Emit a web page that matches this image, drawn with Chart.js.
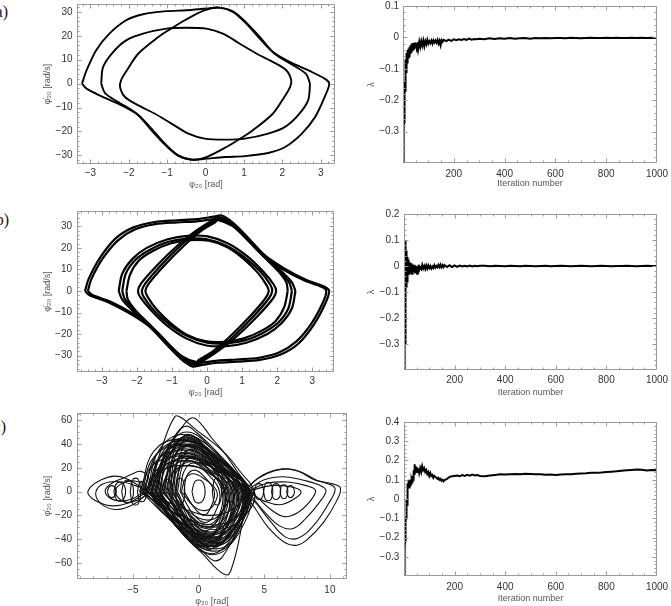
<!DOCTYPE html>
<html><head><meta charset="utf-8">
<script src="https://cdn.jsdelivr.net/npm/chart.js@4.4.0/dist/chart.umd.min.js"></script>
<style>
html,body{margin:0;padding:0;background:#fff;}
#wrap{position:relative;width:671px;height:606px;overflow:hidden;background:#fff;}
canvas{position:absolute;}
.lbl{position:absolute;font-family:"Liberation Serif","DejaVu Serif",serif;font-size:16px;color:#111;width:30px;text-align:right;line-height:16px;}
</style></head><body>
<div id="wrap">
<canvas id="cAL" width="330" height="195" style="left:20px;top:0px;width:330px;height:195px"></canvas>
<canvas id="cAR" width="321" height="195" style="left:350px;top:0px;width:321px;height:195px"></canvas>
<canvas id="cBL" width="330" height="200" style="left:20px;top:200px;width:330px;height:200px"></canvas>
<canvas id="cBR" width="321" height="200" style="left:350px;top:200px;width:321px;height:200px"></canvas>
<canvas id="cCL" width="335" height="206" style="left:20px;top:400px;width:335px;height:206px"></canvas>
<canvas id="cCR" width="321" height="206" style="left:350px;top:400px;width:321px;height:206px"></canvas>
<div class="lbl" style="left:-22px;top:4px">(a)</div>
<div class="lbl" style="left:-21px;top:212px">(b)</div>
<div class="lbl" style="left:-24px;top:419px">(c)</div>
</div>
<script>
// ---------- tick labels ----------
const phaseXTicksAB = [-3,-2,-1,0,1,2,3];
const phaseYTicksAB = [-30,-20,-10,0,10,20,30];
const phaseXTicksC = [-5,0,5,10];
const phaseYTicksC = [-60,-40,-20,0,20,40,60];
const iterTicks = [200,400,600,800,1000];
const lamTicksA = [-0.3,-0.2,-0.1,0,0.1];
const lamTicksB = [-0.3,-0.2,-0.1,0,0.1,0.2];
const lamTicksC = [-0.3,-0.2,-0.1,0,0.1,0.2,0.3,0.4];

// ---------- Lyapunov exponent series ----------
const iterations = [1,2,3,4,5,6,7,8,9,10,11,12,13,14,15,16,17,18,19,20,
22,24,26,28,30,32,34,36,38,40,42,44,46,48,50,52,54,56,58,60,
64,68,72,76,80,84,88,92,96,100,104,108,112,116,120,124,128,132,136,140,144,148,152,156,160,
170,180,190,200,210,220,230,240,250,260,270,280,290,300,
320,340,360,380,400,420,440,460,480,500,520,540,560,580,600,620,640,660,680,700,720,740,760,780,800,820,840,860,880,900,920,940,960,980,1000];

const lambdaA = [-0.40,-0.34,-0.29,-0.27,-0.22,-0.21,-0.14,-0.17,-0.12,-0.13,-0.07,-0.11,-0.06,-0.09,-0.05,-0.08,-0.045,-0.07,-0.04,-0.065,
-0.035,-0.06,-0.03,-0.05,-0.025,-0.045,-0.02,-0.04,-0.018,-0.038,-0.02,-0.034,-0.016,-0.03,-0.018,-0.028,-0.02,-0.045,-0.015,-0.035,
-0.014,-0.03,-0.012,-0.026,-0.01,-0.028,-0.012,-0.022,-0.008,-0.02,-0.012,-0.018,-0.01,-0.02,-0.009,-0.016,-0.01,-0.017,-0.008,-0.02,-0.011,-0.025,-0.009,-0.014,-0.008,
-0.012,-0.007,-0.011,-0.006,-0.009,-0.006,-0.008,-0.005,-0.008,-0.004,-0.007,-0.005,-0.006,-0.004,
-0.006,-0.003,-0.005,-0.003,-0.004,-0.002,-0.004,-0.003,-0.002,-0.004,-0.002,-0.003,-0.002,-0.003,-0.002,-0.002,-0.003,-0.001,-0.002,-0.003,-0.002,-0.001,-0.002,-0.002,-0.001,-0.002,-0.001,-0.002,-0.002,-0.001,-0.002,-0.001,-0.002,-0.001,-0.002];

const lambdaB = [-0.40,-0.15,0.10,-0.30,0.10,-0.12,0.08,-0.08,0.06,-0.06,0.04,-0.06,0.035,-0.04,0.03,-0.03,0.025,-0.025,0.02,-0.03,
0.015,-0.025,0.01,-0.02,0.01,-0.03,0.005,-0.02,0.0,-0.015,0.005,-0.025,-0.005,-0.02,0.0,-0.03,-0.005,-0.02,0.005,-0.015,
-0.005,-0.012,0.004,-0.01,0.0,-0.012,0.002,-0.01,0.002,-0.008,0.0,-0.01,-0.002,-0.008,0.003,-0.006,0.0,-0.005,0.004,-0.004,0.005,-0.005,0.003,-0.004,0.004,
-0.004,0.003,-0.004,0.002,-0.003,0.002,-0.002,0.001,-0.002,0.002,-0.002,0.001,-0.001,0.001,
0.001,-0.001,0.001,0,-0.001,0.001,0,-0.001,0.001,0,-0.001,0,0.001,-0.001,0,0.001,0,-0.001,0,0.001,0,-0.001,0,0.001,0,-0.001,0,0,0.001,0,-0.001,0,0.001,0,0];

const lambdaC = [-0.40,-0.33,-0.27,-0.22,-0.18,-0.20,-0.12,-0.10,-0.06,-0.08,0.0,-0.03,0.04,0.02,0.08,0.06,0.10,0.07,0.09,0.06,
0.10,0.07,0.10,0.08,0.10,0.09,0.12,0.10,0.15,0.13,0.18,0.15,0.17,0.14,0.165,0.145,0.16,0.14,0.15,0.135,
0.16,0.14,0.17,0.15,0.16,0.14,0.15,0.13,0.14,0.12,0.135,0.12,0.125,0.11,0.12,0.115,0.11,0.105,0.11,0.10,0.105,0.095,0.10,0.092,0.098,
0.105,0.115,0.118,0.12,0.122,0.118,0.124,0.12,0.126,0.121,0.127,0.122,0.125,0.12,
0.118,0.122,0.125,0.128,0.127,0.129,0.13,0.128,0.131,0.13,0.129,0.128,0.126,0.127,0.125,0.127,0.128,0.129,0.131,0.133,0.134,0.136,0.137,0.138,0.14,0.142,0.144,0.147,0.149,0.151,0.153,0.152,0.148,0.15,0.149];

// ---------- phase portrait (a): [phi, phidot] ----------
const aOuter = [[-3.22,0],[-3.1,5.6],[-2.85,14],[-2.5,21],[-2.07,26.5],[-1.63,29],[-1.02,30.3],[-0.5,30.7],[0.02,31.4],[0.36,31.8],[0.71,30],[1.06,25.1],[1.41,18.8],[1.75,13.2],[2.19,9.1],[2.71,5.3],[3.1,2.1],[3.22,0],[3.1,-5.6],[2.85,-14],[2.5,-21],[2.07,-26.5],[1.63,-29],[1.02,-30.3],[0.5,-30.7],[-0.02,-31.4],[-0.36,-31.8],[-0.71,-30],[-1.06,-25.1],[-1.41,-18.8],[-1.75,-13.2],[-2.19,-9.1],[-2.71,-5.3],[-3.1,-2.1],[-3.22,0]];
const aLoopUpper = [[-2.72,0],[-2.67,7],[-2.41,13.2],[-2.07,18.1],[-1.63,20.9],[-1.02,23],[-0.5,23.4],[0.02,23],[0.45,20.9],[0.89,16.7],[1.32,12.6],[1.75,9.1],[2.1,5.6],[2.23,1.4],[2.2,-1.5],[2.05,-5.6],[1.75,-12.6],[1.23,-19.5],[0.97,-22.3],[0.54,-26.5],[0.02,-30.7],[-0.33,-31.8],[-0.71,-30.2],[-1.06,-25.5],[-1.41,-19.5],[-1.8,-12.5],[-2.3,-7.5],[-2.62,-4],[-2.72,0]];
const aLoopLower = [[2.72,0],[2.67,-7],[2.41,-13.2],[2.07,-18.1],[1.63,-20.9],[1.02,-23],[0.5,-23.4],[-0.02,-23],[-0.45,-20.9],[-0.89,-16.7],[-1.32,-12.6],[-1.75,-9.1],[-2.1,-5.6],[-2.23,-1.4],[-2.2,1.5],[-2.05,5.6],[-1.75,12.6],[-1.23,19.5],[-0.97,22.3],[-0.54,26.5],[-0.02,30.7],[0.33,31.8],[0.71,30.2],[1.06,25.5],[1.41,19.5],[1.8,12.5],[2.3,7.5],[2.62,4],[2.72,0]];

// ---------- phase portrait (b) ----------
const bOuter1 = [[-3.48,0],[-3.38,5.5],[-3.05,15.5],[-2.6,24.5],[-2.1,29.5],[-1.5,32],[-0.85,32.8],[-0.3,33.3],[0.2,34.5],[0.42,35],[0.75,31.5],[1.15,25],[1.65,16.5],[2.2,10.5],[2.85,5],[3.35,2],[3.48,0],[3.38,-5.5],[3.05,-15.5],[2.6,-24.5],[2.1,-29.5],[1.5,-32],[0.85,-32.8],[0.3,-33.3],[-0.2,-34.5],[-0.42,-35],[-0.75,-31.5],[-1.15,-25],[-1.65,-16.5],[-2.2,-10.5],[-2.85,-5],[-3.35,-2],[-3.48,0]];
const bOuter2 = [[-3.4,0],[-3.3,5.5],[-2.98,15],[-2.54,23.5],[-2.05,28.6],[-1.48,31],[-0.85,31.8],[-0.3,32.3],[0.2,33.4],[0.4,33.8],[0.72,30.5],[1.1,24.5],[1.6,16.3],[2.15,10.2],[2.78,4.8],[3.28,1.8],[3.4,0],[3.3,-5.5],[2.98,-15],[2.54,-23.5],[2.05,-28.6],[1.48,-31],[0.85,-31.8],[0.3,-32.3],[-0.2,-33.4],[-0.4,-33.8],[-0.72,-30.5],[-1.1,-24.5],[-1.6,-16.3],[-2.15,-10.2],[-2.78,-4.8],[-3.28,-1.8],[-3.4,0]];
const bUpper1 = [[-2.52,0],[-2.42,8],[-2.12,15],[-1.72,20],[-1.12,24],[-0.55,25.6],[0.02,25.3],[0.6,22],[1.15,16],[1.6,9],[1.9,3],[1.97,0],[1.88,-3.5],[1.45,-11.5],[0.85,-21],[0.35,-27.5],[-0.12,-32.5],[-0.33,-34.3],[-0.68,-31.5],[-1.1,-25],[-1.6,-16.5],[-2.1,-9.5],[-2.42,-4],[-2.52,0]];
const bUpper2 = [[-2.42,0],[-2.32,8],[-2.04,14.5],[-1.64,19],[-1.1,22.8],[-0.55,24.3],[0.0,24],[0.55,21],[1.08,15.5],[1.52,9],[1.8,3],[1.86,0],[1.76,-3.5],[1.34,-11.5],[0.76,-21],[0.26,-27.8],[-0.18,-32.2],[-0.32,-33.5],[-0.7,-30.8],[-1.13,-24.5],[-1.62,-16],[-2.06,-9.2],[-2.34,-4],[-2.42,0]];
const bUpper3 = [[-2.3,0],[-2.2,7.5],[-1.95,14],[-1.56,18.4],[-1.05,22],[-0.5,23.6],[0.05,23.3],[0.58,20.3],[1.05,14.8],[1.45,8.4],[1.7,2.6],[1.76,0],[1.66,-3.5],[1.24,-11.5],[0.66,-21],[0.16,-28],[-0.24,-32],[-0.3,-33],[-0.72,-30.2],[-1.16,-24],[-1.64,-15.6],[-2.04,-9],[-2.26,-4],[-2.3,0]];
const bLower1 = [[2.52,0],[2.42,-8],[2.12,-15],[1.72,-20],[1.12,-24],[0.55,-25.6],[-0.02,-25.3],[-0.6,-22],[-1.15,-16],[-1.6,-9],[-1.9,-3],[-1.97,0],[-1.88,3.5],[-1.45,11.5],[-0.85,21],[-0.35,27.5],[0.12,32.5],[0.33,34.3],[0.68,31.5],[1.1,25],[1.6,16.5],[2.1,9.5],[2.42,4],[2.52,0]];
const bLower2 = [[2.42,0],[2.32,-8],[2.04,-14.5],[1.64,-19],[1.1,-22.8],[0.55,-24.3],[0.0,-24],[-0.55,-21],[-1.08,-15.5],[-1.52,-9],[-1.8,-3],[-1.86,0],[-1.76,3.5],[-1.34,11.5],[-0.76,21],[-0.26,27.8],[0.18,32.2],[0.32,33.5],[0.7,30.8],[1.13,24.5],[1.62,16],[2.06,9.2],[2.34,4],[2.42,0]];
const bLower3 = [[2.3,0],[2.2,-7.5],[1.95,-14],[1.56,-18.4],[1.05,-22],[0.5,-23.6],[-0.05,-23.3],[-0.58,-20.3],[-1.05,-14.8],[-1.45,-8.4],[-1.7,-2.6],[-1.76,0],[-1.66,3.5],[-1.24,11.5],[-0.66,21],[-0.16,28],[0.24,32],[0.3,33],[0.72,30.2],[1.16,24],[1.64,15.6],[2.04,9],[2.26,4],[2.3,0]];

// ---------- phase portrait (c), chaotic ----------
const cCenterLoops = [
[[-4.2,0],[-3.3,25],[-1.3,35],[1.1,25],[3.8,0],[3.0,-27],[1.1,-38],[-1.3,-27],[-4.2,0]],
[[-3.6,0],[-2.8,32],[-1.1,45],[1.0,32],[3.4,0],[2.7,-32],[1.0,-45],[-1.1,-32],[-3.6,0]],
[[-3,0],[-2.3,30],[-0.9,42],[0.9,30],[3,0],[2.3,-35],[0.9,-48],[-0.9,-35],[-3,0]],
[[-2.6,0],[-2.0,27],[-0.8,38],[0.8,27],[2.8,0],[2.2,-29],[0.8,-40],[-0.8,-29],[-2.6,0]],
[[-2.2,0],[-1.7,23],[-0.7,32],[0.7,23],[2.4,0],[1.9,-26],[0.7,-36],[-0.7,-26],[-2.2,0]],
[[-1.8,0],[-1.4,20],[-0.5,28],[0.6,20],[2.0,0],[1.6,-22],[0.6,-30],[-0.5,-22],[-1.8,0]],
[[-1.4,0],[-1.1,17],[-0.4,24],[0.5,17],[1.6,0],[1.2,-19],[0.5,-26],[-0.4,-19],[-1.4,0]],
[[-1.1,0],[-0.9,13],[-0.3,18],[0.4,13],[1.2,0],[0.9,-14],[0.4,-20],[-0.3,-14],[-1.1,0]],
[[-3.9,0],[-3.0,35],[-1.2,48],[1.1,35],[3.6,0],[2.8,-30],[1.1,-42],[-1.2,-30],[-3.9,0]],
[[-3.3,0],[-2.6,26],[-1.0,36],[0.9,26],[3.1,0],[2.4,-29],[0.9,-40],[-1.0,-29],[-3.3,0]],
[[-2.9,0],[-2.3,33],[-0.9,46],[1.0,33],[3.3,0],[2.6,-37],[1.0,-52],[-0.9,-37],[-2.9,0]],
[[-2.4,0],[-1.9,29],[-0.7,40],[0.8,29],[2.6,0],[2.0,-32],[0.8,-44],[-0.7,-32],[-2.4,0]],
[[-2.0,0],[-1.6,25],[-0.6,35],[0.7,25],[2.2,0],[1.7,-27],[0.7,-38],[-0.6,-27],[-2.0,0]],
[[-1.6,0],[-1.2,22],[-0.5,30],[0.5,22],[1.8,0],[1.4,-24],[0.5,-33],[-0.5,-24],[-1.6,0]],
[[-4.5,0],[-3.5,22],[-1.4,30],[1.2,22],[4.0,0],[3.1,-20],[1.2,-28],[-1.4,-20],[-4.5,0]],
[[-3.7,0],[-2.9,29],[-1.1,40],[1.2,29],[3.9,0],[3.0,-36],[1.2,-50],[-1.1,-36],[-3.7,0]],
[[-2.7,0],[-2.1,22],[-0.8,30],[0.9,22],[2.9,0],[2.3,-24],[0.9,-34],[-0.8,-24],[-2.7,0]],
[[-1.3,0],[-1.0,11],[-0.4,15],[0.4,11],[1.4,0],[1.1,-12],[0.4,-16],[-0.4,-12],[-1.3,0]],
[[-3.4,0],[-2.7,20],[-1.0,28],[1.1,20],[3.6,0],[2.8,-22],[1.1,-30],[-1.0,-22],[-3.4,0]],
[[-4,0],[-3.1,16],[-1.2,22],[1.0,16],[3.5,0],[2.7,-14],[1.0,-20],[-1.2,-14],[-4,0]],
[[-3.1,0],[-2.4,36],[-0.9,50],[1.0,36],[3.3,0],[2.6,-33],[1.0,-46],[-0.9,-33],[-3.1,0]],
[[-2.2,0],[-1.7,32],[-0.7,44],[0.6,32],[2.0,0],[1.6,-29],[0.6,-40],[-0.7,-29],[-2.2,0]],
[[-3.5,0],[-2.7,27],[-1.05,38],[1.0,27],[3.2,0],[2.5,-25],[1.0,-35],[-1.05,-25],[-3.5,0]],
[[-2.8,0],[-2.2,19],[-0.85,26],[0.8,19],[2.6,0],[2.0,-22],[0.8,-30],[-0.85,-22],[-2.8,0]],
[[-4.3,0],[-3.4,29],[-1.3,40],[1.1,29],[3.7,0],[2.9,-26],[1.1,-36],[-1.3,-26],[-4.3,0]],
[[-1.9,0],[-1.5,29],[-0.6,40],[0.7,29],[2.3,0],[1.8,-33],[0.7,-46],[-0.6,-33],[-1.9,0]],
[[-3.2,0],[-2.5,24],[-1.0,33],[1.0,24],[3.4,0],[2.7,-32],[1.0,-44],[-1.0,-32],[-3.2,0]],
[[-2.5,0],[-2.0,16],[-0.75,22],[0.7,16],[2.3,0],[1.8,-17],[0.7,-24],[-0.75,-17],[-2.5,0]],
[[-4,0],[-3.1,19],[-1.2,26],[1.3,19],[4.2,0],[3.3,-23],[1.3,-32],[-1.2,-23],[-4,0]],
[[-3.8,0],[-3.0,28],[-1.1,39],[1.0,28],[3.5,0],[2.7,-30],[1.0,-41],[-1.1,-30],[-3.8,0]],
[[-2.3,0],[-1.8,36],[-0.7,48],[0.7,34],[2.5,0],[1.9,-35],[0.7,-49],[-0.7,-35],[-2.3,0]],
[[-4.1,0],[-3.2,31],[-1.25,43],[1.1,31],[3.7,0],[2.9,-33],[1.1,-46],[-1.25,-33],[-4.1,0]],
[[-3.0,0],[-2.4,21],[-0.9,29],[0.9,21],[3.0,0],[2.3,-27],[0.9,-37],[-0.9,-27],[-3.0,0]],
[[-1.7,0],[-1.3,26],[-0.5,36],[0.6,26],[1.9,0],[1.5,-28],[0.6,-39],[-0.5,-28],[-1.7,0]],
[[-3.6,0],[-2.8,23],[-1.1,32],[1.0,23],[3.3,0],[2.6,-28],[1.0,-39],[-1.1,-28],[-3.6,0]],
[[-2.6,0],[-2.0,34],[-0.8,47],[0.8,34],[2.7,0],[2.1,-30],[0.8,-42],[-0.8,-30],[-2.6,0]],
[[-4.4,0],[-3.4,34],[-1.3,44],[1.2,31],[3.8,0],[3.0,-31],[1.2,-43],[-1.3,-31],[-4.4,0]],
[[-2.1,0],[-1.6,18],[-0.6,25],[0.6,18],[2.1,0],[1.6,-20],[0.6,-28],[-0.6,-20],[-2.1,0]],
[[-3.3,0],[-2.6,31],[-1.0,43],[1.1,33],[3.6,0],[2.8,-38],[1.1,-53],[-1.0,-38],[-3.3,0]]
];
const cSpikeLoops = [
[[-3.8,0],[-3.4,15],[-2.7,40],[-1.8,63],[-1.3,62],[-0.2,52],[1,42],[2.2,30],[3.3,15],[4.2,2],[4,-6],[3.3,-25],[2.5,-42],[1.5,-48],[0.2,-45],[-1.2,-35],[-2.5,-18],[-3.4,-6],[-3.8,0]],
[[-3.5,0],[-3.1,15],[-2.2,38],[-1.2,55],[-0.5,62],[0.1,58],[1,45],[2,32],[3,16],[3.8,3],[3.6,-8],[3,-25],[2,-40],[1,-46],[-0.3,-44],[-1.5,-32],[-2.6,-16],[-3.3,-5],[-3.5,0]],
[[-3.2,0],[-2.9,15],[-2,35],[-1,45],[0,42],[1,32],[2,20],[3,8],[3.8,0],[3.5,-15],[3,-45],[2.5,-65],[2.2,-70],[1.5,-66],[0.3,-52],[-1,-38],[-2.3,-20],[-3,-6],[-3.2,0]],
[[-3.6,0],[-3.2,14],[-2.5,32],[-1.6,50],[-0.9,55],[-0.2,50],[0.8,40],[2,26],[3.1,12],[3.9,1],[3.6,-10],[2.8,-35],[1.8,-55],[1.2,-58],[0.3,-50],[-1,-36],[-2.4,-18],[-3.3,-6],[-3.6,0]]
];
const cLeftWing = [
[[-4.2,-2],[-5.2,-9],[-6.5,-12],[-7.6,-9],[-8.4,-2],[-8.2,4],[-7.4,10],[-6.4,13],[-5.5,11],[-4.7,6],[-4.2,2],[-4.2,-2]],
[[-4.0,-3],[-5,-11],[-6.2,-15],[-7.2,-12],[-7.8,-4],[-7.6,4],[-6.8,8],[-5.8,8],[-4.8,5],[-4.0,1],[-4.0,-3]],
[[-4.3,-1],[-5,-6],[-6,-8],[-6.8,-5],[-7.1,1],[-6.6,7],[-5.8,11],[-5,15],[-4.4,17],[-3.8,12],[-3.9,3],[-4.3,-1]],
[[-3.9,-2],[-4.6,-7],[-5.5,-9],[-6.2,-4],[-6.3,2],[-5.8,7],[-5,9],[-4.2,6],[-3.9,-2]]
];
const cRightWing = [
[[3.6,2],[4.5,11],[5.8,17.5],[7,19],[8,15.5],[9,9.5],[10.2,6.5],[10.8,3],[10.5,-8],[9.5,-26],[8.3,-40],[7.5,-45],[6.6,-43],[5.3,-30],[4.3,-14],[3.6,-3],[3.6,2]],
[[3.7,3],[4.9,14],[6.3,19],[7.6,17],[8.8,10],[10,6],[10.4,2],[9.9,-10],[8.8,-28],[7.6,-39],[6.6,-38],[5.4,-24],[4.4,-10],[3.7,-2],[3.7,3]],
[[3.8,2],[5,10],[6.5,12.5],[8,9.5],[9.2,5.5],[9.7,1],[9.2,-9],[8.2,-22],[7.2,-31],[6.2,-29],[5.1,-18],[4.2,-6],[3.8,2]],
[[3.9,1],[5.2,7],[6.8,8],[8.2,5],[8.9,1],[8.5,-8],[7.5,-18],[6.5,-21],[5.5,-15],[4.5,-5],[3.9,1]],
[[4,1],[5.5,5],[7,4],[7.8,0],[7.3,-6],[6.2,-11],[5,-8],[4.2,-3],[4,1]]
];
const cSmallOrbits = [
[[-6.45,0],[-6.22,7],[-5.78,7],[-5.55,0],[-5.78,-7],[-6.22,-7],[-6.45,0]],
[[-5.85,0],[-5.62,8.7],[-5.18,8.7],[-4.95,0],[-5.18,-8.7],[-5.62,-8.7],[-5.85,0]],
[[-5.2,0],[-5.0,10.4],[-4.6,10.4],[-4.4,0],[-4.6,-10.4],[-5.0,-10.4],[-5.2,0]],
[[-4.65,0],[-4.47,7.8],[-4.13,7.8],[-3.95,0],[-4.13,-7.8],[-4.47,-7.8],[-4.65,0]],
[[-6.95,0],[-6.77,4.3],[-6.43,4.3],[-6.25,0],[-6.43,-4.3],[-6.77,-4.3],[-6.95,0]],
[[4.25,0],[4.42,6],[4.78,6],[4.95,0],[4.78,-6],[4.42,-6],[4.25,0]],
[[4.95,0],[5.12,7],[5.48,7],[5.65,0],[5.48,-7],[5.12,-7],[4.95,0]],
[[5.55,0],[5.72,6],[6.08,6],[6.25,0],[6.08,-6],[5.72,-6],[5.55,0]],
[[6.2,0],[6.35,5.2],[6.65,5.2],[6.8,0],[6.65,-5.2],[6.35,-5.2],[6.2,0]],
[[6.7,0],[6.85,4.3],[7.15,4.3],[7.3,0],[7.15,-4.3],[6.85,-4.3],[6.7,0]],
[[-0.5,0],[-0.25,8.7],[0.25,8.7],[0.5,0],[0.25,-8.7],[-0.25,-8.7],[-0.5,0]],
[[-1.75,0],[-1.57,10.4],[-1.23,10.4],[-1.05,0],[-1.23,-10.4],[-1.57,-10.4],[-1.75,0]],
[[-2.8,0],[-2.6,9.5],[-2.2,9.5],[-2.0,0],[-2.2,-9.5],[-2.6,-9.5],[-2.8,0]],
[[-3.55,0],[-3.37,7.8],[-3.03,7.8],[-2.85,0],[-3.03,-7.8],[-3.37,-7.8],[-3.55,0]],
[[1.05,0],[1.23,10.4],[1.57,10.4],[1.75,0],[1.57,-10.4],[1.23,-10.4],[1.05,0]],
[[2.0,0],[2.2,7.8],[2.6,7.8],[2.8,0],[2.6,-7.8],[2.2,-7.8],[2.0,0]],
[[2.9,0],[3.05,6],[3.35,6],[3.5,0],[3.35,-6],[3.05,-6],[2.9,0]]
];

// ---------- rendering ----------
Chart.defaults.font.family = '"Liberation Sans", Arial, Helvetica, sans-serif';
const fmt = v => (v < 0 ? '\u2212' + String(-v) : String(v));

const framePlugin = {
  id: 'frame',
  afterDatasetsDraw(chart, args, o) {
    const {ctx, chartArea: a, scales: {x, y}} = chart;
    ctx.save();
    ctx.strokeStyle = '#9a9a9a';
    ctx.lineWidth = 1;
    const L = Math.round(a.left) + 0.5, R = Math.round(a.right) - 0.5;
    const T = Math.round(a.top) + 0.5, B = Math.round(a.bottom) - 0.5;
    ctx.beginPath();
    ctx.rect(L, T, R - L, B - T);
    const xt = (v, len) => { const p = Math.round(x.getPixelForValue(v)) + 0.5; if (p < L || p > R) return; ctx.moveTo(p, B); ctx.lineTo(p, B - len); ctx.moveTo(p, T); ctx.lineTo(p, T + len); };
    const yt = (v, len) => { const p = Math.round(y.getPixelForValue(v)) + 0.5; if (p < T || p > B) return; ctx.moveTo(L, p); ctx.lineTo(L + len, p); ctx.moveTo(R, p); ctx.lineTo(R - len, p); };
    for (let k = Math.ceil(x.min / o.xMinor); k * o.xMinor <= x.max; k++) xt(k * o.xMinor, 2);
    for (let k = Math.ceil(y.min / o.yMinor); k * o.yMinor <= y.max; k++) yt(k * o.yMinor, 2);
    x.ticks.forEach(t => xt(t.value, 4));
    y.ticks.forEach(t => yt(t.value, 4));
    ctx.stroke();
    ctx.restore();
  }
};
Chart.register(framePlugin);

function makeChart(id, c) {
  const zero = s => { s.paddingLeft = 0; s.paddingRight = 0; s.paddingTop = 0; s.paddingBottom = 0; };
  return new Chart(document.getElementById(id), {
    type: 'scatter',
    data: {
      datasets: c.series.map(s => ({
        data: s.map(p => ({x: p[0], y: p[1]})),
        showLine: true, borderColor: c.color || '#000', borderWidth: c.lw,
        tension: c.tension, pointRadius: 0, pointHoverRadius: 0, fill: false
      }))
    },
    options: {
      responsive: false, animation: false, events: [],
      layout: {padding: {left: 0, top: c.pt, right: c.pr, bottom: 0}},
      plugins: {legend: {display: false}, tooltip: {enabled: false}, frame: {xMinor: c.xMinor, yMinor: c.yMinor}},
      scales: {
        x: {
          type: 'linear', position: 'bottom', min: c.xMin, max: c.xMax,
          afterBuildTicks: s => { s.ticks = c.xTicks.map(v => ({value: v})); },
          afterFit: s => { s.height = c.hx; zero(s); },
          grid: {display: false, drawTicks: false}, border: {display: false},
          ticks: {padding: c.xtp, autoSkip: false, maxRotation: 0, minRotation: 0, font: {size: 10}, color: '#333', callback: v => fmt(v)},
          title: {display: true, text: c.xTitle, font: {size: 9}, color: '#555', padding: {top: 0, bottom: c.xpb}}
        },
        y: {
          type: 'linear', position: 'left', min: c.yMin, max: c.yMax,
          afterBuildTicks: s => { s.ticks = c.yTicks.map(v => ({value: v})); },
          afterFit: s => { s.width = c.wy; zero(s); },
          grid: {display: false, drawTicks: false}, border: {display: false},
          ticks: {padding: c.ytp, autoSkip: false, font: {size: 10}, color: '#333', callback: v => fmt(v)},
          title: {display: true, text: c.yTitle, font: {size: 9}, color: '#555', padding: {top: c.ypt, bottom: 0}}
        }
      }
    }
  });
}

const PHI = '\u03C6\u2082\u2080 [rad]';
const PHIDOT = '\u03C6\u0307\u2082\u2080 [rad/s]';
const lamSeries = arr => [iterations.map((it, i) => [it, arr[i]])];

makeChart('cAL', {series: [aOuter, aLoopUpper, aLoopLower], lw: 1.9, tension: 0.3,
  xMin: -3.35, xMax: 3.37, yMin: -33.6, yMax: 33.3, xTicks: phaseXTicksAB, yTicks: phaseYTicksAB,
  xMinor: 0.2, yMinor: 2, pt: 4, pr: 15, hx: 31, wy: 57, xtp: 3.3, xpb: 4.6, ytp: 4.5, ypt: 22.6,
  xTitle: PHI, yTitle: PHIDOT});
makeChart('cAR', {series: lamSeries(lambdaA), lw: 2, tension: 0,
  xMin: 0, xMax: 1000, yMin: -0.4, yMax: 0.1, xTicks: iterTicks, yTicks: lamTicksA,
  xMinor: 50, yMinor: 0.02, pt: 6, pr: 14, hx: 32, wy: 53, xtp: 5, xpb: 5.6, ytp: 4, ypt: 16.6,
  xTitle: 'Iteration number', yTitle: '\u03BB'});
makeChart('cBL', {series: [bOuter1, bOuter2, bUpper1, bUpper2, bUpper3, bLower1, bLower2, bLower3], lw: 2.2, tension: 0.3,
  xMin: -3.71, xMax: 3.62, yMin: -37.6, yMax: 37.1, xTicks: phaseXTicksAB, yTicks: phaseYTicksAB,
  xMinor: 0.2, yMinor: 2, pt: 11, pr: 16, hx: 28, wy: 57, xtp: 3.7, xpb: 1.9, ytp: 5, ypt: 22.3,
  xTitle: PHI, yTitle: PHIDOT});
makeChart('cBR', {series: lamSeries(lambdaB), lw: 2, tension: 0,
  xMin: 0, xMax: 1000, yMin: -0.4, yMax: 0.2, xTicks: iterTicks, yTicks: lamTicksB,
  xMinor: 50, yMinor: 0.02, pt: 14, pr: 14, hx: 30, wy: 54, xtp: 4, xpb: 1.9, ytp: 4.7, ypt: 16.3,
  xTitle: 'Iteration number', yTitle: '\u03BB'});
makeChart('cCL', {series: [].concat(cCenterLoops, cSpikeLoops, cLeftWing, cRightWing, cSmallOrbits), lw: 1.1, color: '#111', tension: 0.4,
  xMin: -9.25, xMax: 11.3, yMin: -73.4, yMax: 66, xTicks: phaseXTicksC, yTicks: phaseYTicksC,
  xMinor: 1, yMinor: 5, pt: 13, pr: 8, hx: 27, wy: 57, xtp: 5, xpb: -1, ytp: 5, ypt: 22.6,
  xTitle: PHI, yTitle: PHIDOT});
makeChart('cCR', {series: lamSeries(lambdaC), lw: 2, tension: 0,
  xMin: 0, xMax: 1000, yMin: -0.4, yMax: 0.4, xTicks: iterTicks, yTicks: lamTicksC,
  xMinor: 50, yMinor: 0.02, pt: 22, pr: 14, hx: 30, wy: 54, xtp: 5.3, xpb: 1.6, ytp: 4.7, ypt: 16.6,
  xTitle: 'Iteration number', yTitle: '\u03BB'});
</script>
</body></html>
